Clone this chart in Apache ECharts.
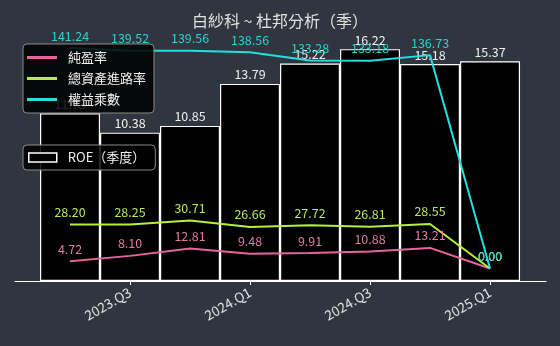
<!DOCTYPE html>
<html>
<head>
<meta charset="utf-8">
<script src="https://cdn.jsdelivr.net/npm/echarts@6/dist/echarts.min.js"></script>
<style>
  html, body { margin: 0; padding: 0; background: #30363f; }
  #main { width: 560px; height: 346px; }
</style>
</head>
<body>
<div id="main"></div>
<script>
var categories = ['2023.Q2', '2023.Q3', '2023.Q4', '2024.Q1', '2024.Q2', '2024.Q3', '2024.Q4', '2025.Q1'];
var roe = [11.73, 10.38, 10.85, 13.79, 15.22, 16.22, 15.18, 15.37];
var netMargin = [4.72, 8.10, 12.81, 9.48, 9.91, 10.88, 13.21, 0.00];
var assetTurnover = [28.20, 28.25, 30.71, 26.66, 27.72, 26.81, 28.55, 0.00];
var equityMultiplier = [141.24, 139.52, 139.56, 138.56, 133.28, 133.18, 136.73, 0.00];
var tickIdx = [1, 3, 5, 7];

var font = '"Noto Sans CJK TC", "DejaVu Sans", sans-serif';

function pts(arr) {
    return arr.map(function (v, i) { return [i, v]; });
}

function lineSeries(name, data, color, labelColor) {
    return {
        name: name,
        type: 'line',
        yAxisIndex: 1,
        data: pts(data),
        symbol: 'circle',
        symbolSize: 0,
        lineStyle: { color: color, width: 2 },
        itemStyle: { color: color },
        label: {
            show: true,
            position: 'top',
            distance: 6,
            color: labelColor,
            fontSize: 12.5,
            fontFamily: font,
            formatter: function (p) { return p.value[1].toFixed(2); }
        },
        z: 3
    };
}

var myChart = echarts.init(document.getElementById('main'));
var option = {
    backgroundColor: '#30363f',
    animation: false,
    title: {
        text: '白紗科 ~ 杜邦分析（季）',
        left: 'center',
        top: 8,
        textStyle: { color: '#e0e0e0', fontSize: 16, fontWeight: 'normal', fontFamily: font }
    },
    legend: [{
        data: ['純盈率', '總資產進路率', '權益乘數'],
        orient: 'vertical',
        left: 23,
        top: 44,
        padding: [7, 8, 7, 4],
        itemGap: 8,
        itemWidth: 30,
        itemHeight: 3,
        icon: 'rect',
        backgroundColor: 'rgba(0,0,0,0.85)',
        borderColor: '#8a8a8a',
        borderWidth: 1,
        borderRadius: 4,
        textStyle: { color: '#f0f0f0', fontSize: 13, fontFamily: font, padding: [0, 0, 0, 6] }
    }, {
        data: [{ name: 'ROE（季度）', itemStyle: { color: '#000', borderColor: '#fff', borderWidth: 1.5 } }],
        left: 23,
        top: 145,
        padding: [6, 10, 6, 5],
        itemWidth: 28,
        itemHeight: 9,
        icon: 'rect',
        backgroundColor: 'rgba(0,0,0,0.85)',
        borderColor: '#8a8a8a',
        borderWidth: 1,
        borderRadius: 4,
        textStyle: { color: '#f0f0f0', fontSize: 13, fontFamily: font, padding: [0, 0, 0, 6] }
    }],
    grid: { left: 15, right: 14, top: 38, bottom: 65 },
    xAxis: {
        type: 'value',
        min: -0.917,
        max: 7.933,
        splitLine: { show: false },
        axisLine: { show: true, lineStyle: { color: '#ffffff', width: 1.2 } },
        axisTick: { show: true, customValues: tickIdx, length: 4, lineStyle: { color: '#ffffff' } },
        axisLabel: {
            customValues: tickIdx,
            rotate: 30,
            color: '#e0e0e0',
            fontSize: 13.5,
            fontFamily: font,
            margin: 10,
            formatter: function (v) { return categories[Math.round(v)]; }
        }
    },
    yAxis: [{
        type: 'value',
        min: 0,
        max: 17.0,
        show: false,
        splitLine: { show: false }
    }, {
        type: 'value',
        min: -8,
        max: 147.7,
        show: false,
        splitLine: { show: false }
    }],
    series: [{
        name: 'ROE（季度）',
        type: 'bar',
        yAxisIndex: 0,
        data: pts(roe),
        barWidth: 60,
        itemStyle: { color: '#000', borderColor: '#ffffff', borderWidth: 1.2 },
        label: {
            show: true,
            position: 'top',
            distance: 3,
            color: '#f0f0f0',
            fontSize: 12.5,
            fontFamily: font,
            formatter: function (p) { return p.value[1].toFixed(2); }
        },
        z: 2
    },
    lineSeries('純盈率', netMargin, '#e8649f', '#e07aa6'),
    lineSeries('總資產進路率', assetTurnover, '#b4f03c', '#b8e85a'),
    lineSeries('權益乘數', equityMultiplier, '#22e0e0', '#2dcfcf')
    ]
};
myChart.setOption(option);
</script>
</body>
</html>
